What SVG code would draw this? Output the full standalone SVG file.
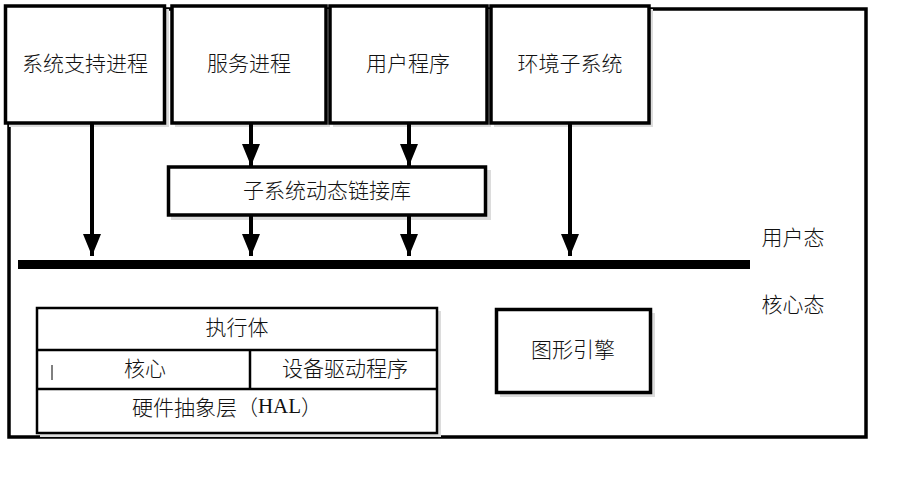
<svg xmlns="http://www.w3.org/2000/svg" width="903" height="479" viewBox="0 0 903 479">
<style>
  .t{font-family:"Noto Sans CJK SC","Noto Sans",sans-serif;font-size:21px;font-weight:300;fill:#111;text-anchor:middle;dominant-baseline:central}
  .box{fill:#fff;stroke:#000;stroke-width:3.5}
  .thin{fill:#fff;stroke:#000;stroke-width:2.5}
  .sh{fill:#dcdcdc}
  .ln{stroke:#000;stroke-width:4;fill:none}
  .ser{font-family:"Liberation Serif",serif}
</style>
<defs>
  <marker id="ah" markerUnits="userSpaceOnUse" viewBox="0 0 22 18" refX="22" refY="9" markerWidth="22" markerHeight="18" orient="auto">
    <path d="M0,0 L22,9 L0,18 z" fill="#000"/>
  </marker>
</defs>
<rect width="903" height="479" fill="#fff"/>
<g id="frame">
  <rect x="9" y="9" width="857" height="428" fill="#fff" stroke="#000" stroke-width="3.5"/>
</g>
<g id="n-sys-support">
  <rect class="sh" x="9" y="9" width="160" height="118"/>
  <rect class="box" x="5.5" y="6" width="159" height="117"/>
  <text class="t" x="85" y="62">系统支持进程</text>
</g>
<g id="n-service">
  <rect class="sh" x="175" y="9" width="155" height="118"/>
  <rect class="box" x="172" y="6" width="154" height="117"/>
  <text class="t" x="249" y="62">服务进程</text>
</g>
<g id="n-user-app">
  <rect class="sh" x="333" y="9" width="158" height="118"/>
  <rect class="box" x="330" y="6" width="157" height="117"/>
  <text class="t" x="408" y="62">用户程序</text>
</g>
<g id="n-env">
  <rect class="sh" x="494" y="9" width="159" height="118"/>
  <rect class="box" x="491" y="6" width="158" height="117"/>
  <text class="t" x="570" y="62">环境子系统</text>
</g>
<g id="n-dll">
  <rect class="sh" x="171" y="170" width="320" height="50"/>
  <rect class="box" x="168.5" y="167" width="317" height="48"/>
  <text class="t" x="327" y="189">子系统动态链接库</text>
</g>
<g id="n-bar">
  <rect x="18" y="260" width="732" height="9" fill="#000"/>
</g>
<g id="labels">
  <text class="t" x="793" y="236">用户态</text>
  <text class="t" x="793" y="303">核心态</text>
</g>
<g id="n-exec">
  <rect class="sh" x="40" y="311" width="401" height="126"/>
  <rect class="thin" x="37" y="308" width="400" height="125"/>
  <line x1="37" y1="350" x2="437" y2="350" stroke="#000" stroke-width="2.5"/>
  <line x1="37" y1="389" x2="437" y2="389" stroke="#000" stroke-width="2.5"/>
  <line x1="250" y1="350" x2="250" y2="389" stroke="#000" stroke-width="2.5"/>
  <line x1="52" y1="365" x2="52" y2="380" stroke="#000" stroke-width="1"/>
  <text class="t" x="237" y="326">执行体</text>
  <text class="t" x="145" y="367">核心</text>
  <text class="t" x="345" y="367">设备驱动程序</text>
  <text class="t" x="227" y="406">硬件抽象层（<tspan class="ser">HAL</tspan>）</text>
</g>
<g id="n-graphics">
  <rect class="sh" x="500" y="313" width="155" height="84"/>
  <rect class="box" x="496.5" y="309.5" width="154" height="83"/>
  <text class="t" x="573" y="348">图形引擎</text>
</g>
<g id="connectors">
  <line class="ln" x1="92" y1="123" x2="92" y2="256" marker-end="url(#ah)"/>
  <line class="ln" x1="251" y1="123" x2="251" y2="166" marker-end="url(#ah)"/>
  <line class="ln" x1="251" y1="215" x2="251" y2="256" marker-end="url(#ah)"/>
  <line class="ln" x1="409" y1="123" x2="409" y2="166" marker-end="url(#ah)"/>
  <line class="ln" x1="409" y1="215" x2="409" y2="256" marker-end="url(#ah)"/>
  <line class="ln" x1="570" y1="123" x2="570" y2="256" marker-end="url(#ah)"/>
</g>
</svg>
